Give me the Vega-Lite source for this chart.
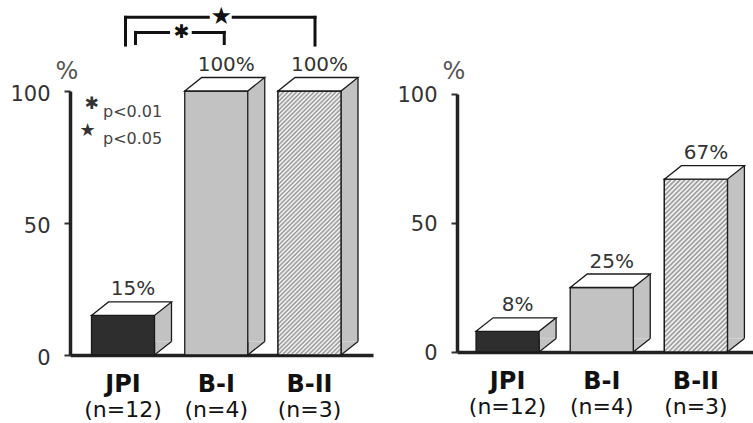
{
  "$schema": "https://vega.github.io/schema/vega-lite/v6.json",
  "background": "white",
  "padding": {"left": 9, "top": 5, "right": 0, "bottom": 0},
  "config": {
    "view": {"stroke": null},
    "font": "DejaVu Sans",
    "axisY": {"grid": false, "domainWidth": 3.5, "domainColor": "#222", "tickSize": 6, "tickWidth": 2, "tickColor": "#333", "labelFontSize": 21, "labelFont": "DejaVu Sans", "labelColor": "#333", "labelPadding": 14, "labelOffset": 3, "titleAngle": 0, "titleFontSize": 24, "titleFont": "DejaVu Sans", "titleFontWeight": "normal", "titleColor": "#555", "titleX": -3.5, "titleY": -13, "titleAlign": "center", "titleBaseline": "alphabetic"},
    "axisX": {"title": null, "labels": false, "ticks": false, "domainWidth": 3.5, "domainColor": "#222"}
  },
  "bounds": "flush",
  "center": true,
  "spacing": 84,
  "hconcat": [
    {
      "width": 303,
      "height": 264,
      "data": {"values": [
        {"cat": "JPI", "pct": 15, "lab": "15%", "n": "(n=12)"},
        {"cat": "B-I", "pct": 100, "lab": "100%", "n": "(n=4)"},
        {"cat": "B-II", "pct": 100, "lab": "100%", "n": "(n=3)"}
      ]},
      "encoding": {
        "x": {"field": "cat", "type": "nominal", "sort": ["JPI", "B-I", "B-II"], "scale": {"paddingInner": 0.3244, "paddingOuter": 0.2869, "align": 0.4019}, "axis": {"title": null}},
        "y": {"field": "pct", "type": "quantitative", "scale": {"domain": [0, 100], "nice": false}, "axis": {"title": "%", "values": [0, 50, 100]}}
      },
      "layer": [
        {"mark": {"type": "rule", "xOffset": 40, "yOffset": -13.5, "y2Offset": -13.5, "strokeWidth": 17, "color": "#c2c2c2", "strokeCap": "butt"}, "encoding": {"y2": {"datum": 0}}},
        {"mark": {"type": "point", "shape": "M 31.5 -13.5 L 31.5 0 L 48.5 -13.5", "size": 4, "filled": true, "fill": "#c2c2c2", "stroke": "#1a1a1a", "strokeWidth": 1.3, "opacity": 1}, "encoding": {"y": {"datum": 0}}},
        {"mark": {"type": "rule", "xOffset": 48.5, "yOffset": -13.5, "y2Offset": -13.5, "strokeWidth": 1.3, "color": "#1a1a1a"}, "encoding": {"y2": {"datum": 0}}},
        {"mark": {"type": "bar", "stroke": "#1a1a1a", "strokeWidth": 1.3}, "encoding": {"fill": {"condition": [{"test": "datum.cat === 'JPI'", "value": "#2e2e2e"}, {"test": "datum.cat === 'B-II'", "value": "#dcdcdc"}], "value": "#c2c2c2"}}},
        {"transform": [{"filter": "datum.cat === 'B-II'"}], "mark": {"type": "bar", "stroke": "#1a1a1a", "strokeWidth": 1.3, "fill": {"gradient": "linear", "x1": 0, "y1": 0, "x2": 0.2796, "y2": 1.1719, "stops": [
          {"offset": 0, "color": "#fff"}, {"offset": 0.0067, "color": "#909090"}, {"offset": 0.0133, "color": "#fff"}, {"offset": 0.02, "color": "#909090"}, {"offset": 0.0267, "color": "#fff"}, {"offset": 0.0333, "color": "#909090"}, {"offset": 0.04, "color": "#fff"}, {"offset": 0.0467, "color": "#909090"}, {"offset": 0.0533, "color": "#fff"}, {"offset": 0.06, "color": "#909090"},
          {"offset": 0.0667, "color": "#fff"}, {"offset": 0.0733, "color": "#909090"}, {"offset": 0.08, "color": "#fff"}, {"offset": 0.0867, "color": "#909090"}, {"offset": 0.0933, "color": "#fff"}, {"offset": 0.1, "color": "#909090"}, {"offset": 0.1067, "color": "#fff"}, {"offset": 0.1133, "color": "#909090"}, {"offset": 0.12, "color": "#fff"}, {"offset": 0.1267, "color": "#909090"},
          {"offset": 0.1333, "color": "#fff"}, {"offset": 0.14, "color": "#909090"}, {"offset": 0.1467, "color": "#fff"}, {"offset": 0.1533, "color": "#909090"}, {"offset": 0.16, "color": "#fff"}, {"offset": 0.1667, "color": "#909090"}, {"offset": 0.1733, "color": "#fff"}, {"offset": 0.18, "color": "#909090"}, {"offset": 0.1867, "color": "#fff"}, {"offset": 0.1933, "color": "#909090"},
          {"offset": 0.2, "color": "#fff"}, {"offset": 0.2067, "color": "#909090"}, {"offset": 0.2133, "color": "#fff"}, {"offset": 0.22, "color": "#909090"}, {"offset": 0.2267, "color": "#fff"}, {"offset": 0.2333, "color": "#909090"}, {"offset": 0.24, "color": "#fff"}, {"offset": 0.2467, "color": "#909090"}, {"offset": 0.2533, "color": "#fff"}, {"offset": 0.26, "color": "#909090"},
          {"offset": 0.2667, "color": "#fff"}, {"offset": 0.2733, "color": "#909090"}, {"offset": 0.28, "color": "#fff"}, {"offset": 0.2867, "color": "#909090"}, {"offset": 0.2933, "color": "#fff"}, {"offset": 0.3, "color": "#909090"}, {"offset": 0.3067, "color": "#fff"}, {"offset": 0.3133, "color": "#909090"}, {"offset": 0.32, "color": "#fff"}, {"offset": 0.3267, "color": "#909090"},
          {"offset": 0.3333, "color": "#fff"}, {"offset": 0.34, "color": "#909090"}, {"offset": 0.3467, "color": "#fff"}, {"offset": 0.3533, "color": "#909090"}, {"offset": 0.36, "color": "#fff"}, {"offset": 0.3667, "color": "#909090"}, {"offset": 0.3733, "color": "#fff"}, {"offset": 0.38, "color": "#909090"}, {"offset": 0.3867, "color": "#fff"}, {"offset": 0.3933, "color": "#909090"},
          {"offset": 0.4, "color": "#fff"}, {"offset": 0.4067, "color": "#909090"}, {"offset": 0.4133, "color": "#fff"}, {"offset": 0.42, "color": "#909090"}, {"offset": 0.4267, "color": "#fff"}, {"offset": 0.4333, "color": "#909090"}, {"offset": 0.44, "color": "#fff"}, {"offset": 0.4467, "color": "#909090"}, {"offset": 0.4533, "color": "#fff"}, {"offset": 0.46, "color": "#909090"},
          {"offset": 0.4667, "color": "#fff"}, {"offset": 0.4733, "color": "#909090"}, {"offset": 0.48, "color": "#fff"}, {"offset": 0.4867, "color": "#909090"}, {"offset": 0.4933, "color": "#fff"}, {"offset": 0.5, "color": "#909090"}, {"offset": 0.5067, "color": "#fff"}, {"offset": 0.5133, "color": "#909090"}, {"offset": 0.52, "color": "#fff"}, {"offset": 0.5267, "color": "#909090"},
          {"offset": 0.5333, "color": "#fff"}, {"offset": 0.54, "color": "#909090"}, {"offset": 0.5467, "color": "#fff"}, {"offset": 0.5533, "color": "#909090"}, {"offset": 0.56, "color": "#fff"}, {"offset": 0.5667, "color": "#909090"}, {"offset": 0.5733, "color": "#fff"}, {"offset": 0.58, "color": "#909090"}, {"offset": 0.5867, "color": "#fff"}, {"offset": 0.5933, "color": "#909090"},
          {"offset": 0.6, "color": "#fff"}, {"offset": 0.6067, "color": "#909090"}, {"offset": 0.6133, "color": "#fff"}, {"offset": 0.62, "color": "#909090"}, {"offset": 0.6267, "color": "#fff"}, {"offset": 0.6333, "color": "#909090"}, {"offset": 0.64, "color": "#fff"}, {"offset": 0.6467, "color": "#909090"}, {"offset": 0.6533, "color": "#fff"}, {"offset": 0.66, "color": "#909090"},
          {"offset": 0.6667, "color": "#fff"}, {"offset": 0.6733, "color": "#909090"}, {"offset": 0.68, "color": "#fff"}, {"offset": 0.6867, "color": "#909090"}, {"offset": 0.6933, "color": "#fff"}, {"offset": 0.7, "color": "#909090"}, {"offset": 0.7067, "color": "#fff"}, {"offset": 0.7133, "color": "#909090"}, {"offset": 0.72, "color": "#fff"}, {"offset": 0.7267, "color": "#909090"},
          {"offset": 0.7333, "color": "#fff"}, {"offset": 0.74, "color": "#909090"}, {"offset": 0.7467, "color": "#fff"}, {"offset": 0.7533, "color": "#909090"}, {"offset": 0.76, "color": "#fff"}, {"offset": 0.7667, "color": "#909090"}, {"offset": 0.7733, "color": "#fff"}, {"offset": 0.78, "color": "#909090"}, {"offset": 0.7867, "color": "#fff"}, {"offset": 0.7933, "color": "#909090"},
          {"offset": 0.8, "color": "#fff"}, {"offset": 0.8067, "color": "#909090"}, {"offset": 0.8133, "color": "#fff"}, {"offset": 0.82, "color": "#909090"}, {"offset": 0.8267, "color": "#fff"}, {"offset": 0.8333, "color": "#909090"}, {"offset": 0.84, "color": "#fff"}, {"offset": 0.8467, "color": "#909090"}, {"offset": 0.8533, "color": "#fff"}, {"offset": 0.86, "color": "#909090"},
          {"offset": 0.8667, "color": "#fff"}, {"offset": 0.8733, "color": "#909090"}, {"offset": 0.88, "color": "#fff"}, {"offset": 0.8867, "color": "#909090"}, {"offset": 0.8933, "color": "#fff"}, {"offset": 0.9, "color": "#909090"}, {"offset": 0.9067, "color": "#fff"}, {"offset": 0.9133, "color": "#909090"}, {"offset": 0.92, "color": "#fff"}, {"offset": 0.9267, "color": "#909090"},
          {"offset": 0.9333, "color": "#fff"}, {"offset": 0.94, "color": "#909090"}, {"offset": 0.9467, "color": "#fff"}, {"offset": 0.9533, "color": "#909090"}, {"offset": 0.96, "color": "#fff"}, {"offset": 0.9667, "color": "#909090"}, {"offset": 0.9733, "color": "#fff"}, {"offset": 0.98, "color": "#909090"}, {"offset": 0.9867, "color": "#fff"}, {"offset": 0.9933, "color": "#909090"},
          {"offset": 1, "color": "#fff"}
        ]}}},
        {"mark": {"type": "point", "shape": "M -31.5 0 L -14.5 -13.5 L 48.5 -13.5 L 31.5 0 Z", "size": 4, "filled": true, "fill": "white", "stroke": "#1a1a1a", "strokeWidth": 1.3, "opacity": 1}},
        {"mark": {"type": "text", "dx": 10, "dy": -20, "baseline": "alphabetic", "fontSize": 20, "color": "#333"}, "encoding": {"text": {"field": "lab"}}},
        {"mark": {"type": "text", "dy": 37, "baseline": "alphabetic", "fontSize": 24, "fontWeight": "bold", "color": "#111"}, "encoding": {"y": {"datum": 0}, "text": {"field": "cat"}}},
        {"mark": {"type": "text", "dy": 62, "baseline": "alphabetic", "fontSize": 22, "color": "#111"}, "encoding": {"y": {"datum": 0}, "text": {"field": "n"}}},
        {"transform": [{"filter": "datum.cat === 'JPI'"}], "mark": {"type": "rule", "strokeWidth": 3, "color": "#111", "strokeCap": "square", "xOffset": 2.5}, "encoding": {"y": {"datum": 127.9}, "y2": {"datum": 117.4}}},
        {"transform": [{"filter": "datum.cat === 'JPI'"}], "mark": {"type": "rule", "strokeWidth": 3, "color": "#111", "strokeCap": "square", "xOffset": 2.5, "x2Offset": 85.25}, "encoding": {"x2": {"field": "cat"}, "y": {"datum": 127.9}}},
        {"transform": [{"filter": "datum.cat === 'B-I'"}], "mark": {"type": "rule", "strokeWidth": 3, "color": "#111", "strokeCap": "square", "xOffset": 17, "x2Offset": 98.75}, "encoding": {"x2": {"field": "cat"}, "y": {"datum": 127.9}}},
        {"transform": [{"filter": "datum.cat === 'B-II'"}], "mark": {"type": "rule", "strokeWidth": 3, "color": "#111", "strokeCap": "square", "xOffset": 5.5}, "encoding": {"y": {"datum": 127.9}, "y2": {"datum": 117.4}}},
        {"transform": [{"filter": "datum.cat === 'JPI'"}], "mark": {"type": "rule", "strokeWidth": 3, "color": "#111", "strokeCap": "square", "xOffset": 12.5}, "encoding": {"y": {"datum": 122.2}, "y2": {"datum": 118.0}}},
        {"transform": [{"filter": "datum.cat === 'JPI'"}], "mark": {"type": "rule", "strokeWidth": 3, "color": "#111", "strokeCap": "square", "xOffset": 12.5, "x2Offset": 45.5}, "encoding": {"x2": {"field": "cat"}, "y": {"datum": 122.2}}},
        {"transform": [{"filter": "datum.cat === 'B-I'"}], "mark": {"type": "rule", "strokeWidth": 3, "color": "#111", "strokeCap": "square", "xOffset": -23, "x2Offset": 8}, "encoding": {"x2": {"field": "cat"}, "y": {"datum": 122.2}}},
        {"transform": [{"filter": "datum.cat === 'B-I'"}], "mark": {"type": "rule", "strokeWidth": 3, "color": "#111", "strokeCap": "square", "xOffset": 8}, "encoding": {"y": {"datum": 122.2}, "y2": {"datum": 118.0}}},
        {"transform": [{"filter": "datum.cat === 'B-I'"}], "mark": {"type": "text", "text": "★", "fontSize": 24, "baseline": "middle", "dx": 5, "color": "#111"}, "encoding": {"y": {"datum": 127.9}}},
        {"transform": [{"filter": "datum.cat === 'B-I'"}], "mark": {"type": "text", "text": "✱", "fontSize": 19, "baseline": "middle", "dx": -34.5, "color": "#111"}, "encoding": {"y": {"datum": 122.2}}},
        {"transform": [{"filter": "datum.cat === 'JPI'"}], "mark": {"type": "text", "text": "✱", "fontSize": 17, "baseline": "middle", "dx": -31.5, "color": "#333"}, "encoding": {"y": {"datum": 95.1}}},
        {"transform": [{"filter": "datum.cat === 'JPI'"}], "mark": {"type": "text", "text": "p<0.01", "fontSize": 16, "align": "left", "baseline": "alphabetic", "dx": -20, "color": "#444"}, "encoding": {"y": {"datum": 90.15}}},
        {"transform": [{"filter": "datum.cat === 'JPI'"}], "mark": {"type": "text", "text": "★", "fontSize": 18, "baseline": "middle", "dx": -35.5, "color": "#333"}, "encoding": {"y": {"datum": 84.7}}},
        {"transform": [{"filter": "datum.cat === 'JPI'"}], "mark": {"type": "text", "text": "p<0.05", "fontSize": 16, "align": "left", "baseline": "alphabetic", "dx": -20, "color": "#444"}, "encoding": {"y": {"datum": 79.9}}}
      ]
    },
    {
      "width": 296,
      "height": 258,
      "data": {"values": [
        {"cat": "JPI", "pct": 8, "lab": "8%", "n": "(n=12)"},
        {"cat": "B-I", "pct": 25, "lab": "25%", "n": "(n=4)"},
        {"cat": "B-II", "pct": 67, "lab": "67%", "n": "(n=3)"}
      ]},
      "encoding": {
        "x": {"field": "cat", "type": "nominal", "sort": ["JPI", "B-I", "B-II"], "scale": {"paddingInner": 0.3298, "paddingOuter": 0.2367, "align": 0.427}, "axis": {"title": null}},
        "y": {"field": "pct", "type": "quantitative", "scale": {"domain": [0, 100], "nice": false}, "axis": {"title": "%", "values": [0, 50, 100], "titleY": -16, "labelOffset": 1}}
      },
      "layer": [
        {"mark": {"type": "rule", "xOffset": 40, "yOffset": -13.5, "y2Offset": -13.5, "strokeWidth": 17, "color": "#c2c2c2", "strokeCap": "butt"}, "encoding": {"y2": {"datum": 0}}},
        {"mark": {"type": "point", "shape": "M 31.5 -13.5 L 31.5 0 L 48.5 -13.5", "size": 4, "filled": true, "fill": "#c2c2c2", "stroke": "#1a1a1a", "strokeWidth": 1.3, "opacity": 1}, "encoding": {"y": {"datum": 0}}},
        {"mark": {"type": "rule", "xOffset": 48.5, "yOffset": -13.5, "y2Offset": -13.5, "strokeWidth": 1.3, "color": "#1a1a1a"}, "encoding": {"y2": {"datum": 0}}},
        {"mark": {"type": "bar", "stroke": "#1a1a1a", "strokeWidth": 1.3}, "encoding": {"fill": {"condition": [{"test": "datum.cat === 'JPI'", "value": "#2e2e2e"}, {"test": "datum.cat === 'B-II'", "value": "#dcdcdc"}], "value": "#c2c2c2"}}},
        {"transform": [{"filter": "datum.cat === 'B-II'"}], "mark": {"type": "bar", "stroke": "#1a1a1a", "strokeWidth": 1.3, "fill": {"gradient": "linear", "x1": 0, "y1": 0, "x2": 0.4389, "y2": 1.2044, "stops": [
          {"offset": 0, "color": "#fff"}, {"offset": 0.01, "color": "#909090"}, {"offset": 0.02, "color": "#fff"}, {"offset": 0.03, "color": "#909090"}, {"offset": 0.04, "color": "#fff"}, {"offset": 0.05, "color": "#909090"}, {"offset": 0.06, "color": "#fff"}, {"offset": 0.07, "color": "#909090"}, {"offset": 0.08, "color": "#fff"}, {"offset": 0.09, "color": "#909090"},
          {"offset": 0.1, "color": "#fff"}, {"offset": 0.11, "color": "#909090"}, {"offset": 0.12, "color": "#fff"}, {"offset": 0.13, "color": "#909090"}, {"offset": 0.14, "color": "#fff"}, {"offset": 0.15, "color": "#909090"}, {"offset": 0.16, "color": "#fff"}, {"offset": 0.17, "color": "#909090"}, {"offset": 0.18, "color": "#fff"}, {"offset": 0.19, "color": "#909090"},
          {"offset": 0.2, "color": "#fff"}, {"offset": 0.21, "color": "#909090"}, {"offset": 0.22, "color": "#fff"}, {"offset": 0.23, "color": "#909090"}, {"offset": 0.24, "color": "#fff"}, {"offset": 0.25, "color": "#909090"}, {"offset": 0.26, "color": "#fff"}, {"offset": 0.27, "color": "#909090"}, {"offset": 0.28, "color": "#fff"}, {"offset": 0.29, "color": "#909090"},
          {"offset": 0.3, "color": "#fff"}, {"offset": 0.31, "color": "#909090"}, {"offset": 0.32, "color": "#fff"}, {"offset": 0.33, "color": "#909090"}, {"offset": 0.34, "color": "#fff"}, {"offset": 0.35, "color": "#909090"}, {"offset": 0.36, "color": "#fff"}, {"offset": 0.37, "color": "#909090"}, {"offset": 0.38, "color": "#fff"}, {"offset": 0.39, "color": "#909090"},
          {"offset": 0.4, "color": "#fff"}, {"offset": 0.41, "color": "#909090"}, {"offset": 0.42, "color": "#fff"}, {"offset": 0.43, "color": "#909090"}, {"offset": 0.44, "color": "#fff"}, {"offset": 0.45, "color": "#909090"}, {"offset": 0.46, "color": "#fff"}, {"offset": 0.47, "color": "#909090"}, {"offset": 0.48, "color": "#fff"}, {"offset": 0.49, "color": "#909090"},
          {"offset": 0.5, "color": "#fff"}, {"offset": 0.51, "color": "#909090"}, {"offset": 0.52, "color": "#fff"}, {"offset": 0.53, "color": "#909090"}, {"offset": 0.54, "color": "#fff"}, {"offset": 0.55, "color": "#909090"}, {"offset": 0.56, "color": "#fff"}, {"offset": 0.57, "color": "#909090"}, {"offset": 0.58, "color": "#fff"}, {"offset": 0.59, "color": "#909090"},
          {"offset": 0.6, "color": "#fff"}, {"offset": 0.61, "color": "#909090"}, {"offset": 0.62, "color": "#fff"}, {"offset": 0.63, "color": "#909090"}, {"offset": 0.64, "color": "#fff"}, {"offset": 0.65, "color": "#909090"}, {"offset": 0.66, "color": "#fff"}, {"offset": 0.67, "color": "#909090"}, {"offset": 0.68, "color": "#fff"}, {"offset": 0.69, "color": "#909090"},
          {"offset": 0.7, "color": "#fff"}, {"offset": 0.71, "color": "#909090"}, {"offset": 0.72, "color": "#fff"}, {"offset": 0.73, "color": "#909090"}, {"offset": 0.74, "color": "#fff"}, {"offset": 0.75, "color": "#909090"}, {"offset": 0.76, "color": "#fff"}, {"offset": 0.77, "color": "#909090"}, {"offset": 0.78, "color": "#fff"}, {"offset": 0.79, "color": "#909090"},
          {"offset": 0.8, "color": "#fff"}, {"offset": 0.81, "color": "#909090"}, {"offset": 0.82, "color": "#fff"}, {"offset": 0.83, "color": "#909090"}, {"offset": 0.84, "color": "#fff"}, {"offset": 0.85, "color": "#909090"}, {"offset": 0.86, "color": "#fff"}, {"offset": 0.87, "color": "#909090"}, {"offset": 0.88, "color": "#fff"}, {"offset": 0.89, "color": "#909090"},
          {"offset": 0.9, "color": "#fff"}, {"offset": 0.91, "color": "#909090"}, {"offset": 0.92, "color": "#fff"}, {"offset": 0.93, "color": "#909090"}, {"offset": 0.94, "color": "#fff"}, {"offset": 0.95, "color": "#909090"}, {"offset": 0.96, "color": "#fff"}, {"offset": 0.97, "color": "#909090"}, {"offset": 0.98, "color": "#fff"}, {"offset": 0.99, "color": "#909090"},
          {"offset": 1, "color": "#fff"}
        ]}}},
        {"mark": {"type": "point", "shape": "M -31.5 0 L -14.5 -13.5 L 48.5 -13.5 L 31.5 0 Z", "size": 4, "filled": true, "fill": "white", "stroke": "#1a1a1a", "strokeWidth": 1.3, "opacity": 1}},
        {"mark": {"type": "text", "dx": 10, "dy": -20, "baseline": "alphabetic", "fontSize": 20, "color": "#333"}, "encoding": {"text": {"field": "lab"}}},
        {"mark": {"type": "text", "dy": 37, "baseline": "alphabetic", "fontSize": 24, "fontWeight": "bold", "color": "#111"}, "encoding": {"y": {"datum": 0}, "text": {"field": "cat"}}},
        {"mark": {"type": "text", "dy": 62, "baseline": "alphabetic", "fontSize": 22, "color": "#111"}, "encoding": {"y": {"datum": 0}, "text": {"field": "n"}}}
      ]
    }
  ]
}
